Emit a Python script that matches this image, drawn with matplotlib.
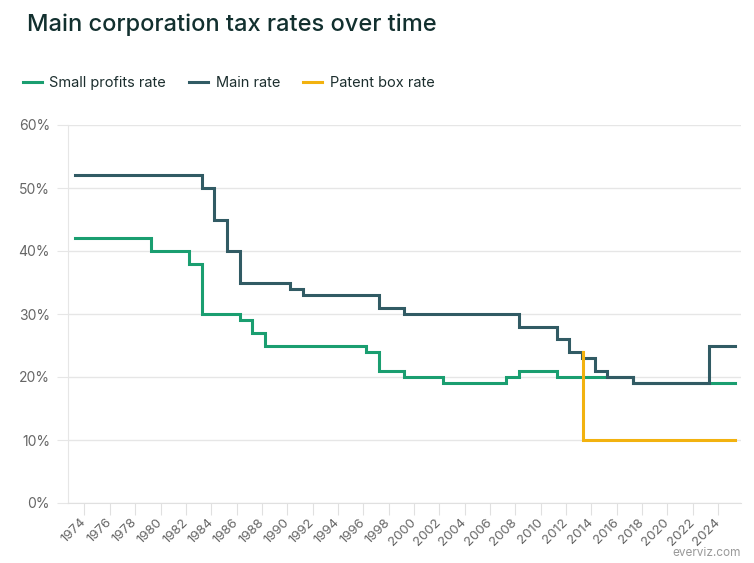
import matplotlib.pyplot as plt
from matplotlib.ticker import FuncFormatter

plt.rcParams['font.family'] = ['Inter', 'DejaVu Sans']

# step change dates (April of each financial year) and rates in %
small_years = [1973.25, 1979.25, 1982.25, 1983.25, 1986.25, 1987.25, 1988.25, 1996.25,
               1997.25, 1999.25, 2002.25, 2007.25, 2008.25, 2011.25, 2017.25, 2025.35]
small_rate = [42, 40, 38, 30, 29, 27, 25, 24, 21, 20, 19, 20, 21, 20, 19, 19]

main_years = [1973.25, 1983.25, 1984.25, 1985.25, 1986.25, 1990.25, 1991.25, 1997.25, 1999.25,
              2008.25, 2011.25, 2012.25, 2013.25, 2014.25, 2015.25, 2017.25, 2023.25, 2025.35]
main_rate = [52, 50, 45, 40, 35, 34, 33, 31, 30, 28, 26, 24, 23, 21, 20, 19, 25, 25]

patent_years = [2013.3, 2013.3, 2025.35]
patent_rate = [24, 10, 10]

tick_years = list(range(1974, 2025, 2))
y_ticks = [0, 10, 20, 30, 40, 50, 60]

fig = plt.figure(figsize=(7.54, 5.63), dpi=100)
ax = fig.add_axes([68 / 754, 60 / 563, 673 / 754, 378 / 563])

ax.step(small_years, small_rate, where='post', color='#1a9e70', lw=2.2,
        label='Small profits rate', solid_joinstyle='miter', zorder=3)
ax.step(main_years, main_rate, where='post', color='#315b64', lw=2.2,
        label='Main rate', solid_joinstyle='miter', zorder=4)
ax.step(patent_years, patent_rate, where='post', color='#f2b20f', lw=2.2,
        label='Patent box rate', solid_joinstyle='miter', zorder=5)

ax.set_xlim(1972.7, 2025.8)
ax.set_ylim(0, 60)
ax.set_yticks(y_ticks)
ax.yaxis.set_major_formatter(FuncFormatter(lambda v, p: f'{v:.0f}%'))
ax.set_xticks(tick_years)
ax.set_xticklabels([str(y) for y in tick_years], rotation=45, ha='right', va='center',
                   rotation_mode='anchor')

ax.grid(axis='y', color='#e6e6e6', lw=1)
ax.set_axisbelow(True)
for s in ['top', 'right']:
    ax.spines[s].set_visible(False)
ax.spines['left'].set_color('#e6e6e6')
ax.spines['bottom'].set_color('#e0e0e0')
ax.tick_params(axis='y', length=8, color='#e6e6e6', pad=5, labelsize=10, labelcolor='#666666')
ax.tick_params(axis='x', length=8.6, color='#e0e0e0', pad=4, labelsize=9.5, labelcolor='#666666')

fig.legend(loc='center left', bbox_to_anchor=(23 / 754, 1 - 83 / 563), ncol=3, frameon=False,
           fontsize=10.5, handlelength=1.3, handletextpad=0.5, columnspacing=1.6,
           borderpad=0, borderaxespad=0, labelcolor='#1c2e2e')

fig.text(27 / 754, 1 - 31 / 563, 'Main corporation tax rates over time', fontsize=17,
         weight='medium', color='#12302f', va='baseline')
fig.text(741 / 754, 1 - 553 / 563, 'everviz.com', fontsize=8.5, color='#999999',
         ha='right', va='center')

fig.savefig('out.png', dpi=100)
